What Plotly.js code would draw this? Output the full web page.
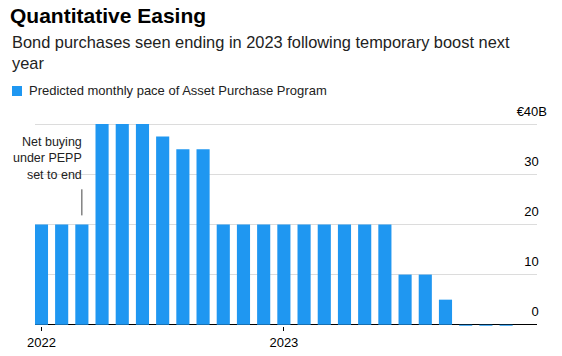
<!DOCTYPE html>
<html>
<head>
<meta charset="utf-8">
<script src="https://cdn.plot.ly/plotly-3.0.1.min.js"></script>
<style>html,body{margin:0;padding:0;background:#fff;}#chart{width:562px;height:356px;}</style>
</head>
<body>
<div id="chart"></div>
<script>
const months = ["2022-01","2022-02","2022-03","2022-04","2022-05","2022-06","2022-07","2022-08","2022-09","2022-10","2022-11","2022-12",
                "2023-01","2023-02","2023-03","2023-04","2023-05","2023-06","2023-07","2023-08","2023-09","2023-10","2023-11","2023-12"];
const purchases = [20,20,20,40,40,40,37.5,35,35,20,20,20,20,20,20,20,20,20,10,10,5,-0.2,-0.2,-0.2];
const xTickVals = ["2022-01","2023-01"];
const xTickText = ["2022","2023"];
const yTickVals = [0,10,20,30,40];
const yTickText = ["0","10","20","30","€40B"];
const seriesName = "Predicted monthly pace of Asset Purchase Program";

const FONT = "Liberation Sans, Arial, sans-serif";
const BLUE = "#1f97f1";

// plot area geometry helpers (pixel -> paper)
const M = {l: 35, r: 25, t: 99, b: 30};
const W = 562, H = 356;
const PW = W - M.l - M.r, PH = H - M.t - M.b;
const px = p => (p - M.l) / PW;
const py = p => (H - M.b - p) / PH;

// unit suffix "B" hangs past the numbers: pad plain numbers to the suffix width
const HANG = "\u2007\u200A";
const yTickLabels = yTickText.map(t => /B$/.test(t) ? t : t + HANG);

const data = [{
  type: "bar",
  x: months,
  y: purchases,
  name: seriesName,
  marker: {color: BLUE, line: {width: 0}},
  width: 0.65,
  hoverinfo: "skip",
  showlegend: false
}];

const layout = {
  width: W, height: H,
  margin: M,
  paper_bgcolor: "#fff", plot_bgcolor: "#fff",
  font: {family: FONT, color: "#000", size: 13},
  title: {text: "<b>Quantitative Easing</b>", font: {family: FONT, size: 21, color: "#000"},
          xref: "container", yref: "container", x: 10/W, xanchor: "left", y: 1 - 16/H, yanchor: "middle"},
  showlegend: false,
  xaxis: {
    type: "category", categoryorder: "array", categoryarray: months,
    range: [-0.32, 24.53],
    tickmode: "array", tickvals: xTickVals, ticktext: xTickText,
    ticks: "outside", ticklen: 4, tickcolor: "#000", tickwidth: 1,
    showgrid: false, showline: false, zeroline: false,
    tickfont: {family: FONT, size: 13, color: "#000"}
  },
  yaxis: {
    range: [-0.25, 45],
    side: "right",
    tickmode: "array", tickvals: yTickVals, ticktext: yTickLabels,
    ticklabelposition: "inside", ticklabelshift: -13, ticklabelstandoff: -13,
    showgrid: true, gridcolor: "#dcdcdc", gridwidth: 1,
    zeroline: true, zerolinecolor: "#000", zerolinewidth: 1,
    showline: false, ticks: "",
    tickfont: {family: FONT, size: 13, color: "#000"}
  },
  annotations: [
    {xref: "paper", yref: "paper", x: px(10), xanchor: "left", y: py(53), yanchor: "middle",
     text: "Bond purchases seen ending in 2023 following temporary boost next<br>year", align: "left",
     showarrow: false, font: {family: FONT, size: 16.4, color: "#222"}},
    {xref: "paper", yref: "paper", x: px(27), xanchor: "left", y: py(91), yanchor: "middle",
     text: seriesName, align: "left", showarrow: false,
     font: {family: FONT, size: 13, color: "#222"}},
    {xref: "x", yref: "y", x: "2022-03", xanchor: "right", xshift: 2, y: 27, yanchor: "bottom", yshift: 5,
     text: "Net buying<br>under PEPP<br>set to end", align: "right", showarrow: false,
     font: {family: FONT, size: 12.5, color: "#222"}}
  ],
  shapes: [
    {type: "rect", xref: "paper", yref: "paper", x0: px(12), x1: px(22), y0: py(96), y1: py(86),
     fillcolor: BLUE, line: {width: 0}},
    {type: "line", xref: "x", yref: "y", x0: "2022-03", x1: "2022-03", y0: 21.8, y1: 27,
     line: {color: "#444", width: 1}}
  ]
};

Plotly.newPlot("chart", data, layout, {displayModeBar: false, staticPlot: true});
</script>
</body>
</html>
